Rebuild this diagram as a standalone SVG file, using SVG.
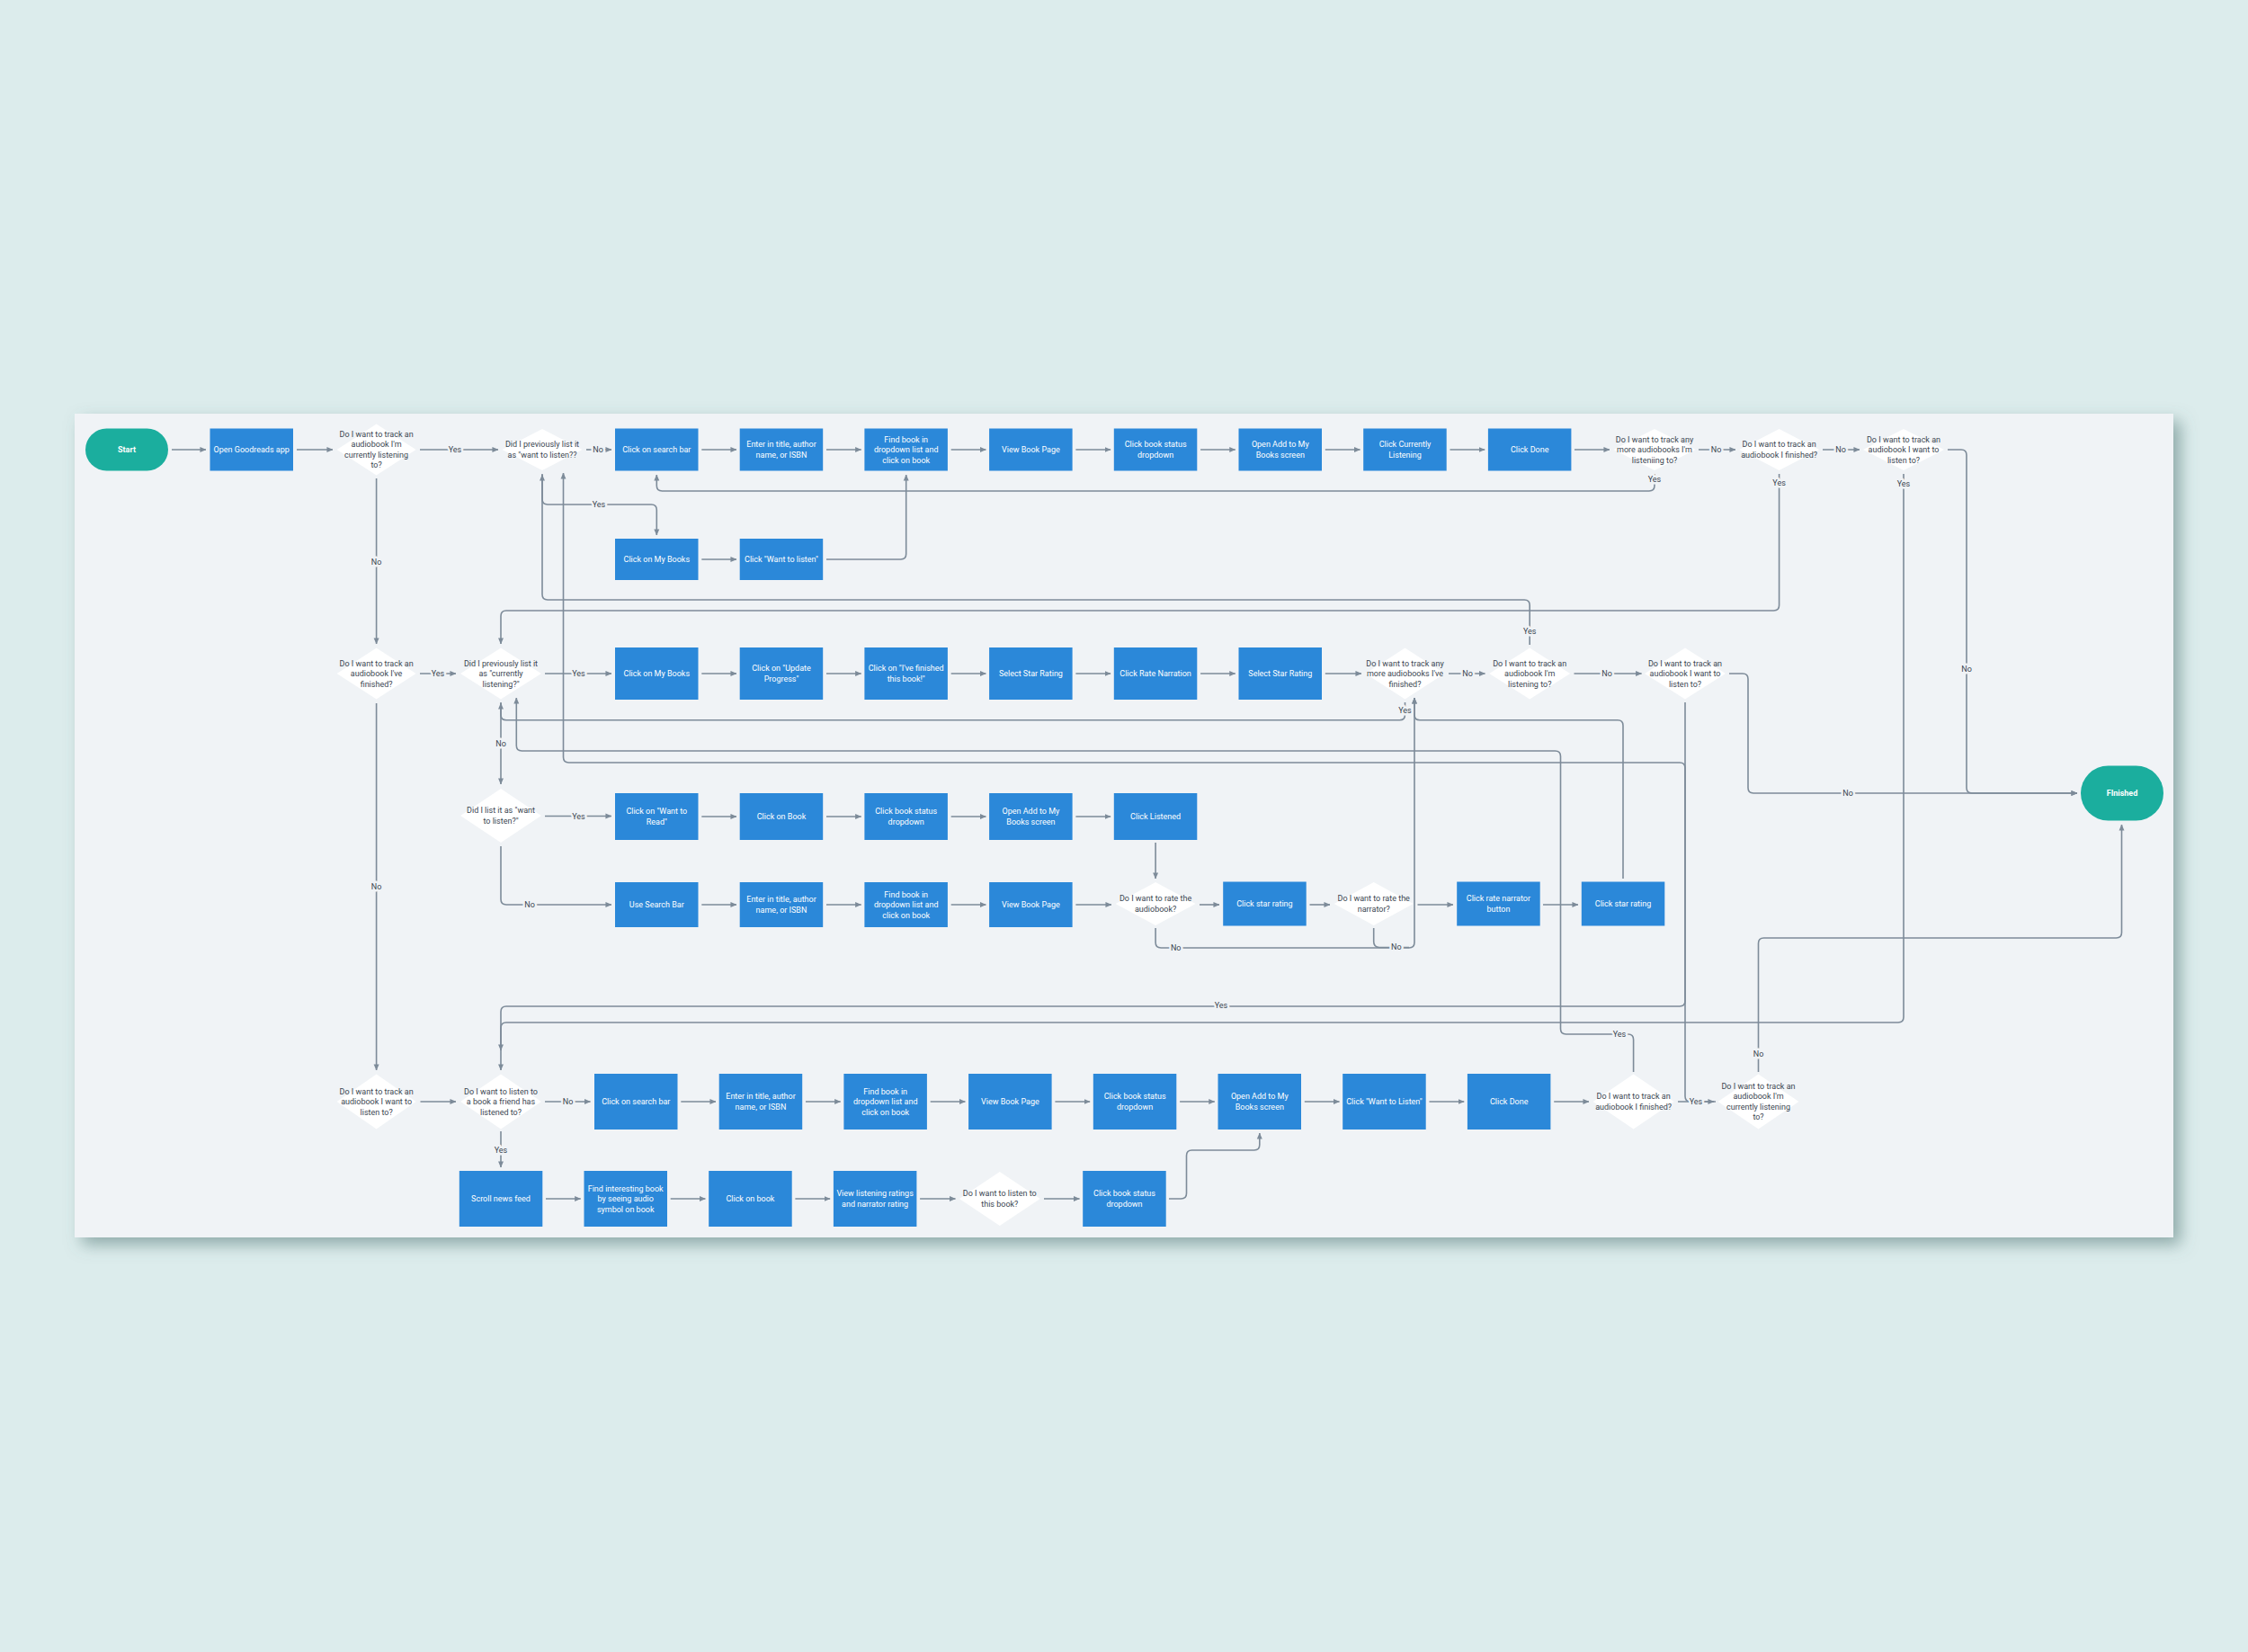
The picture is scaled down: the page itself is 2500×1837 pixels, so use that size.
<svg xmlns="http://www.w3.org/2000/svg" width="2500" height="1837" viewBox="0 0 2500 1837">
<defs>
<style>
.box{fill:#2b88d9}
.term{fill:#1bae9e}
.dia{fill:#ffffff}
.bt{font-family:"Liberation Sans Narrow","Roboto","DejaVu Sans",sans-serif;font-size:9px;fill:#ffffff;text-anchor:middle}
.dt{font-family:"Liberation Sans Narrow","Roboto","DejaVu Sans",sans-serif;font-size:9px;fill:#3b4651;text-anchor:middle}
.tt{font-family:"Liberation Sans Narrow","Roboto","DejaVu Sans",sans-serif;font-size:9px;font-weight:bold;fill:#ffffff;text-anchor:middle}
.c{fill:none;stroke:#7d8b99;stroke-width:1.6;marker-end:url(#arr)}
.cn{fill:none;stroke:#7d8b99;stroke-width:1.6}
.lbl{font-family:"Liberation Sans Narrow","Roboto","DejaVu Sans",sans-serif;font-size:9px;fill:#3b4651;text-anchor:middle;paint-order:stroke;stroke:#f0f3f6;stroke-width:5px;stroke-linejoin:round}
</style>
<marker id="arr" viewBox="0 0 8 8" refX="7.5" refY="4" markerWidth="7" markerHeight="7" markerUnits="userSpaceOnUse" orient="auto"><path d="M0,0.6 L8,4 L0,7.4 z" fill="#7d8b99"/></marker>
<filter id="psh" x="-5%" y="-5%" width="110%" height="112%"><feDropShadow dx="8" dy="8" stdDeviation="9" flood-color="#4f7472" flood-opacity="0.55"/></filter>
<filter id="nsh" x="-10%" y="-10%" width="120%" height="130%"><feDropShadow dx="0" dy="1" stdDeviation="1" flood-color="#3b4651" flood-opacity="0.2"/></filter>
</defs>
<rect x="0" y="0" width="2500" height="1837" fill="#dcecec"/>
<rect id="panel" x="83" y="460" width="2334" height="916" fill="#f0f3f6" filter="url(#psh)"/>

<g id="connectors">
<!-- row 1 -->
<path class="c" d="M191,500 L229,500"/>
<path class="c" d="M330,500 L370,500"/>
<path class="c" d="M467,500 L554,500"/>
<path class="c" d="M652,500 L680,500"/>
<path class="c" d="M780.3,500 L819,500"/>
<path class="c" d="M919,500 L957.7,500"/>
<path class="c" d="M1057.7,500 L1096.4,500"/>
<path class="c" d="M1196.4,500 L1235.1,500"/>
<path class="c" d="M1335.1,500 L1373.8,500"/>
<path class="c" d="M1473.8,500 L1512.5,500"/>
<path class="c" d="M1612.5,500 L1651.2,500"/>
<path class="c" d="M1751,500 L1790,500"/>
<path class="c" d="M1889,500 L1930,500"/>
<path class="c" d="M2027,500 L2068,500"/>
<path class="c" d="M2166,500 L2181,500 Q2187,500 2187,506 L2187,876 Q2187,882 2193,882 L2310,882"/>
<path class="c" d="M418.6,532 L418.6,716"/>
<path class="c" d="M1840,527 L1840,540 Q1840,546 1834,546 L736.3,546 Q730.3,546 730.3,540 L730.3,528"/>
<path class="c" d="M1978.6,527 L1978.6,673 Q1978.6,679 1972.6,679 L563,679 Q557,679 557,685 L557,716"/>
<path class="c" d="M2117,527 L2117,1131 Q2117,1137 2111,1137 L563,1137 Q557,1137 557,1143 L557,1190"/>
<path class="c" d="M603,527 L603,555 Q603,561 609,561 L724.3,561 Q730.3,561 730.3,567 L730.3,595"/>
<path class="c" d="M1701.2,717 L1701.2,673 Q1701.2,667 1695.2,667 L609,667 Q603,667 603,661 L603,528"/>
<path class="c" d="M1908,1225 L1880,1225 Q1874,1225 1874,1219 L1874,854 Q1874,848 1868,848 L632.5,848 Q626.5,848 626.5,842 L626.5,526"/>
<!-- row 1b -->
<path class="c" d="M780.3,622 L819,622"/>
<path class="c" d="M919,622 L1001.7,622 Q1007.7,622 1007.7,616 L1007.7,528"/>
<!-- row 2 -->
<path class="c" d="M467,749 L507,749"/>
<path class="c" d="M606,749 L680,749"/>
<path class="c" d="M780.3,749 L819,749"/>
<path class="c" d="M919,749 L957.7,749"/>
<path class="c" d="M1057.7,749 L1096.4,749"/>
<path class="c" d="M1196.4,749 L1235.1,749"/>
<path class="c" d="M1335.1,749 L1373.8,749"/>
<path class="c" d="M1473.8,749 L1514,749"/>
<path class="c" d="M1611,749 L1651.5,749"/>
<path class="c" d="M1750.5,749 L1825.6,749"/>
<path class="c" d="M1923,749 L1938,749 Q1944,749 1944,755 L1944,876 Q1944,882 1950,882 L2310,882"/>
<path class="c" d="M418.6,782 L418.6,1190"/>
<path class="c" d="M557,781 L557,872"/>
<path class="c" d="M1562.5,781 L1562.5,794.7 Q1562.5,800.7 1556.5,800.7 L563,800.7 Q557,800.7 557,794.7 L557,782"/>
<path class="c" d="M1805,977 L1805,806.7 Q1805,800.7 1799,800.7 L1579,800.7 Q1573,800.7 1573,794.7 L1573,776"/>
<path class="c" d="M1874,781 L1874,1113 Q1874,1119 1868,1119 L563,1119 Q557,1119 557,1125 L557,1168"/>
<path class="c" d="M1816.6,1192 L1816.6,1156 Q1816.6,1150 1810.6,1150 L1741.5,1150 Q1735.5,1150 1735.5,1144 L1735.5,841 Q1735.5,835 1729.5,835 L580.3,835 Q574.3,835 574.3,829 L574.3,776"/>
<!-- row 3 -->
<path class="c" d="M606,907.5 L680,907.5"/>
<path class="c" d="M557,941 L557,1000 Q557,1006 563,1006 L680,1006"/>
<path class="c" d="M780.3,908 L819,908"/>
<path class="c" d="M919,908 L957.7,908"/>
<path class="c" d="M1057.7,908 L1096.4,908"/>
<path class="c" d="M1196.4,908 L1235.1,908"/>
<path class="c" d="M1285.1,937 L1285.1,977"/>
<!-- row 3b -->
<path class="c" d="M780.3,1006 L819,1006"/>
<path class="c" d="M919,1006 L957.7,1006"/>
<path class="c" d="M1057.7,1006 L1096.4,1006"/>
<path class="c" d="M1196.4,1006 L1236,1006"/>
<path class="c" d="M1334,1006 L1356,1006"/>
<path class="c" d="M1456.5,1006 L1479,1006"/>
<path class="c" d="M1576.5,1006 L1616,1006"/>
<path class="c" d="M1716,1006 L1755,1006"/>
<path class="c" d="M1285.1,1032 L1285.1,1048 Q1285.1,1054 1291.1,1054 L1567,1054 Q1573,1054 1573,1048 L1573,776"/>
<path class="cn" d="M1527.7,1032 L1527.7,1047 Q1527.7,1053.5 1534,1053.5 L1567,1053.5"/>
<!-- row 4 -->
<path class="c" d="M467.5,1225 L507,1225"/>
<path class="c" d="M606,1225 L656.5,1225"/>
<path class="c" d="M757.3,1225 L796,1225"/>
<path class="c" d="M896,1225 L934.7,1225"/>
<path class="c" d="M1034.7,1225 L1073.4,1225"/>
<path class="c" d="M1173.4,1225 L1212.1,1225"/>
<path class="c" d="M1312.1,1225 L1350.8,1225"/>
<path class="c" d="M1450.8,1225 L1489.5,1225"/>
<path class="c" d="M1589.5,1225 L1628.2,1225"/>
<path class="c" d="M1728.2,1225 L1767,1225"/>
<path class="c" d="M1866,1225 L1906,1225"/>
<path class="c" d="M557,1258 L557,1298"/>
<path class="c" d="M1955.5,1192 L1955.5,1049 Q1955.5,1043 1961.5,1043 L2353.5,1043 Q2359.5,1043 2359.5,1037 L2359.5,917"/>
<!-- row 5 -->
<path class="c" d="M607,1333 L645.7,1333"/>
<path class="c" d="M745.7,1333 L784.4,1333"/>
<path class="c" d="M884.4,1333 L923.1,1333"/>
<path class="c" d="M1023.1,1333 L1062.5,1333"/>
<path class="c" d="M1161,1333 L1200.5,1333"/>
<path class="c" d="M1300,1333 L1313.5,1333 Q1319.5,1333 1319.5,1327 L1319.5,1285 Q1319.5,1279 1325.5,1279 L1394.8,1279 Q1400.8,1279 1400.8,1273 L1400.8,1260"/>

<!-- labels -->
<text class="lbl" x="506" y="503">Yes</text>
<text class="lbl" x="665" y="503">No</text>
<text class="lbl" x="418.6" y="628">No</text>
<text class="lbl" x="1840" y="536">Yes</text>
<text class="lbl" x="1908.6" y="503">No</text>
<text class="lbl" x="2047" y="503">No</text>
<text class="lbl" x="1978.6" y="540">Yes</text>
<text class="lbl" x="2117" y="541">Yes</text>
<text class="lbl" x="2187" y="747">No</text>
<text class="lbl" x="666" y="564">Yes</text>
<text class="lbl" x="1701.2" y="705">Yes</text>
<text class="lbl" x="487" y="752">Yes</text>
<text class="lbl" x="643.5" y="752">Yes</text>
<text class="lbl" x="1632" y="752">No</text>
<text class="lbl" x="1787" y="752">No</text>
<text class="lbl" x="2055" y="885">No</text>
<text class="lbl" x="557" y="830">No</text>
<text class="lbl" x="1562.5" y="793">Yes</text>
<text class="lbl" x="418.6" y="989">No</text>
<text class="lbl" x="643.5" y="910.5">Yes</text>
<text class="lbl" x="589" y="1009">No</text>
<text class="lbl" x="1307.7" y="1057">No</text>
<text class="lbl" x="1552.8" y="1056">No</text>
<text class="lbl" x="1358" y="1121">Yes</text>
<text class="lbl" x="1801" y="1153">Yes</text>
<text class="lbl" x="631.6" y="1228">No</text>
<text class="lbl" x="1886" y="1228">No</text>
<text class="lbl" x="1886" y="1228">Yes</text>
<text class="lbl" x="557" y="1282">Yes</text>
<text class="lbl" x="1955.5" y="1175">No</text>
</g>

<!-- terminals -->
<g id="n_start"><rect class="term" x="95" y="476.5" width="92" height="47" rx="23.5"/><text class="tt" x="141" y="503">Start</text></g>
<g id="n_finished"><rect class="term" x="2314" y="851.5" width="92" height="61" rx="30.5"/><text class="tt" x="2360" y="885">FInished</text></g>

<!-- row 1 -->
<g id="n_open_app"><rect class="box" x="233.5" y="476.5" width="92.5" height="47"/><text class="bt" x="279.7" y="503">Open Goodreads app</text></g>
<g id="d_track_current1"><polygon class="dia" points="418.6,471.5 462.6,500 418.6,528.5 374.6,500"/><text class="dt" x="418.6" y="485.75"><tspan x="418.6">Do I want to track an</tspan><tspan x="418.6" dy="11.5">audiobook I'm</tspan><tspan x="418.6" dy="11.5">currently listening</tspan><tspan x="418.6" dy="11.5">to?</tspan></text></g>
<g id="d_prev_want"><polygon class="dia" points="603,477 647.5,500 603,523 558.5,500"/><text class="dt" x="603" y="497.25"><tspan x="603">Did I previously list it</tspan><tspan x="603" dy="11.5">as "want to listen??</tspan></text></g>
<g id="n_search1"><rect class="box" x="684" y="476.5" width="92.5" height="47"/><text class="bt" x="730.3" y="503">Click on search bar</text></g>
<g id="n_enter1"><rect class="box" x="822.7" y="476.5" width="92.5" height="47"/><text class="bt" x="869" y="497.25"><tspan x="869">Enter in title, author</tspan><tspan x="869" dy="11.5">name, or ISBN</tspan></text></g>
<g id="n_find1"><rect class="box" x="961.4" y="476.5" width="92.5" height="47"/><text class="bt" x="1007.7" y="491.5"><tspan x="1007.7">Find book in</tspan><tspan x="1007.7" dy="11.5">dropdown list and</tspan><tspan x="1007.7" dy="11.5">click on book</tspan></text></g>
<g id="n_view1"><rect class="box" x="1100.1" y="476.5" width="92.5" height="47"/><text class="bt" x="1146.4" y="503">View Book Page</text></g>
<g id="n_status1"><rect class="box" x="1238.8" y="476.5" width="92.5" height="47"/><text class="bt" x="1285.1" y="497.25"><tspan x="1285.1">Click book status</tspan><tspan x="1285.1" dy="11.5">dropdown</tspan></text></g>
<g id="n_addscreen1"><rect class="box" x="1377.5" y="476.5" width="92.5" height="47"/><text class="bt" x="1423.8" y="497.25"><tspan x="1423.8">Open Add to My</tspan><tspan x="1423.8" dy="11.5">Books screen</tspan></text></g>
<g id="n_currently1"><rect class="box" x="1516.2" y="476.5" width="92.5" height="47"/><text class="bt" x="1562.5" y="497.25"><tspan x="1562.5">Click Currently</tspan><tspan x="1562.5" dy="11.5">Listening</tspan></text></g>
<g id="n_done1"><rect class="box" x="1654.9" y="476.5" width="92.5" height="47"/><text class="bt" x="1701.2" y="503">Click Done</text></g>
<g id="d_more_listening"><polygon class="dia" points="1840,477 1885.5,500 1840,523 1794.5,500"/><text class="dt" x="1840" y="491.5"><tspan x="1840">Do I want to track any</tspan><tspan x="1840" dy="11.5">more audiobooks I'm</tspan><tspan x="1840" dy="11.5">listeniing to?</tspan></text></g>
<g id="d_finished1"><polygon class="dia" points="1978.6,477 2023.1,500 1978.6,523 1934.1,500"/><text class="dt" x="1978.6" y="497.25"><tspan x="1978.6">Do I want to track an</tspan><tspan x="1978.6" dy="11.5">audiobook I finished?</tspan></text></g>
<g id="d_wantlisten1"><polygon class="dia" points="2117,477 2162,500 2117,523 2072,500"/><text class="dt" x="2117" y="491.5"><tspan x="2117">Do I want to track an</tspan><tspan x="2117" dy="11.5">audiobook I want to</tspan><tspan x="2117" dy="11.5">listen to?</tspan></text></g>

<!-- row 1b -->
<g id="n_mybooks1"><rect class="box" x="684" y="599" width="92.5" height="46"/><text class="bt" x="730.3" y="625">Click on My Books</text></g>
<g id="n_wantlisten1"><rect class="box" x="822.7" y="599" width="92.5" height="46"/><text class="bt" x="869" y="625">Click "Want to listen"</text></g>

<!-- row 2 -->
<g id="d_track_finished2"><polygon class="dia" points="418.6,720.5 462.6,749 418.6,777.5 374.6,749"/><text class="dt" x="418.6" y="740.5"><tspan x="418.6">Do I want to track an</tspan><tspan x="418.6" dy="11.5">audiobook I've</tspan><tspan x="418.6" dy="11.5">finished?</tspan></text></g>
<g id="d_prev_current"><polygon class="dia" points="557,720.5 602,749 557,777.5 512,749"/><text class="dt" x="557" y="740.5"><tspan x="557">Did I previously list it</tspan><tspan x="557" dy="11.5">as "currently</tspan><tspan x="557" dy="11.5">listening?"</tspan></text></g>
<g id="n_mybooks2"><rect class="box" x="684" y="720" width="92.5" height="58"/><text class="bt" x="730.3" y="752">Click on My Books</text></g>
<g id="n_update"><rect class="box" x="822.7" y="720" width="92.5" height="58"/><text class="bt" x="869" y="746.25"><tspan x="869">Click on "Update</tspan><tspan x="869" dy="11.5">Progress"</tspan></text></g>
<g id="n_ivefinished"><rect class="box" x="961.4" y="720" width="92.5" height="58"/><text class="bt" x="1007.7" y="746.25"><tspan x="1007.7">Click on "I've finished</tspan><tspan x="1007.7" dy="11.5">this book!"</tspan></text></g>
<g id="n_star2a"><rect class="box" x="1100.1" y="720" width="92.5" height="58"/><text class="bt" x="1146.4" y="752">Select Star Rating</text></g>
<g id="n_ratenarration"><rect class="box" x="1238.8" y="720" width="92.5" height="58"/><text class="bt" x="1285.1" y="752">Click Rate Narration</text></g>
<g id="n_star2b"><rect class="box" x="1377.5" y="720" width="92.5" height="58"/><text class="bt" x="1423.8" y="752">Select Star Rating</text></g>
<g id="d_more_finished"><polygon class="dia" points="1562.5,720.5 1606.5,749 1562.5,777.5 1518.5,749"/><text class="dt" x="1562.5" y="740.5"><tspan x="1562.5">Do I want to track any</tspan><tspan x="1562.5" dy="11.5">more audiobooks I've</tspan><tspan x="1562.5" dy="11.5">finished?</tspan></text></g>
<g id="d_listening2"><polygon class="dia" points="1701.2,720.5 1746.2,749 1701.2,777.5 1656.2,749"/><text class="dt" x="1701.2" y="740.5"><tspan x="1701.2">Do I want to track an</tspan><tspan x="1701.2" dy="11.5">audiobook I'm</tspan><tspan x="1701.2" dy="11.5">listening to?</tspan></text></g>
<g id="d_wantlisten2"><polygon class="dia" points="1874,720.5 1919,749 1874,777.5 1829,749"/><text class="dt" x="1874" y="740.5"><tspan x="1874">Do I want to track an</tspan><tspan x="1874" dy="11.5">audiobook I want to</tspan><tspan x="1874" dy="11.5">listen to?</tspan></text></g>

<!-- row 3 -->
<g id="d_listed_want"><polygon class="dia" points="557,877 602,907 557,937 512,907"/><text class="dt" x="557" y="904.25"><tspan x="557">Did I list it as "want</tspan><tspan x="557" dy="11.5">to listen?"</tspan></text></g>
<g id="n_wantread"><rect class="box" x="684" y="882" width="92.5" height="52"/><text class="bt" x="730.3" y="905.25"><tspan x="730.3">Click on "Want to</tspan><tspan x="730.3" dy="11.5">Read"</tspan></text></g>
<g id="n_clickbook3"><rect class="box" x="822.7" y="882" width="92.5" height="52"/><text class="bt" x="869" y="911">Click on Book</text></g>
<g id="n_status3"><rect class="box" x="961.4" y="882" width="92.5" height="52"/><text class="bt" x="1007.7" y="905.25"><tspan x="1007.7">Click book status</tspan><tspan x="1007.7" dy="11.5">dropdown</tspan></text></g>
<g id="n_addscreen3"><rect class="box" x="1100.1" y="882" width="92.5" height="52"/><text class="bt" x="1146.4" y="905.25"><tspan x="1146.4">Open Add to My</tspan><tspan x="1146.4" dy="11.5">Books screen</tspan></text></g>
<g id="n_listened"><rect class="box" x="1238.8" y="882" width="92.5" height="52"/><text class="bt" x="1285.1" y="911">Click Listened</text></g>

<!-- row 3b -->
<g id="n_usesearch"><rect class="box" x="684" y="981" width="92.5" height="50"/><text class="bt" x="730.3" y="1009">Use Search Bar</text></g>
<g id="n_enter3"><rect class="box" x="822.7" y="981" width="92.5" height="50"/><text class="bt" x="869" y="1003.25"><tspan x="869">Enter in title, author</tspan><tspan x="869" dy="11.5">name, or ISBN</tspan></text></g>
<g id="n_find3"><rect class="box" x="961.4" y="981" width="92.5" height="50"/><text class="bt" x="1007.7" y="997.5"><tspan x="1007.7">Find book in</tspan><tspan x="1007.7" dy="11.5">dropdown list and</tspan><tspan x="1007.7" dy="11.5">click on book</tspan></text></g>
<g id="n_view3"><rect class="box" x="1100.1" y="981" width="92.5" height="50"/><text class="bt" x="1146.4" y="1009">View Book Page</text></g>
<g id="d_rate_book"><polygon class="dia" points="1285.1,981 1329.6,1005 1285.1,1029 1240.6,1005"/><text class="dt" x="1285.1" y="1002.25"><tspan x="1285.1">Do I want to rate the</tspan><tspan x="1285.1" dy="11.5">audiobook?</tspan></text></g>
<g id="n_star3a"><rect class="box" x="1360.2" y="980.5" width="92.5" height="49"/><text class="bt" x="1406.4" y="1008">Click star rating</text></g>
<g id="d_rate_narrator"><polygon class="dia" points="1527.7,981 1571.7,1005 1527.7,1029 1483.7,1005"/><text class="dt" x="1527.7" y="1002.25"><tspan x="1527.7">Do I want to rate the</tspan><tspan x="1527.7" dy="11.5">narrator?</tspan></text></g>
<g id="n_narrbutton"><rect class="box" x="1620.2" y="980.5" width="92.5" height="49"/><text class="bt" x="1666.4" y="1002.25"><tspan x="1666.4">Click rate narrator</tspan><tspan x="1666.4" dy="11.5">button</tspan></text></g>
<g id="n_star3b"><rect class="box" x="1758.8" y="980.5" width="92.5" height="49"/><text class="bt" x="1805" y="1008">Click star rating</text></g>

<!-- row 4 -->
<g id="d_track_want4"><polygon class="dia" points="418.6,1194.5 462.6,1225 418.6,1255.5 374.6,1225"/><text class="dt" x="418.6" y="1216.5"><tspan x="418.6">Do I want to track an</tspan><tspan x="418.6" dy="11.5">audiobook I want to</tspan><tspan x="418.6" dy="11.5">listen to?</tspan></text></g>
<g id="d_friend"><polygon class="dia" points="557,1194.5 602,1225 557,1255.5 512,1225"/><text class="dt" x="557" y="1216.5"><tspan x="557">Do I want to listen to</tspan><tspan x="557" dy="11.5">a book a friend has</tspan><tspan x="557" dy="11.5">listened to?</tspan></text></g>
<g id="n_search4"><rect class="box" x="661" y="1194" width="92.5" height="62"/><text class="bt" x="707.3" y="1228">Click on search bar</text></g>
<g id="n_enter4"><rect class="box" x="799.7" y="1194" width="92.5" height="62"/><text class="bt" x="846" y="1222.25"><tspan x="846">Enter in title, author</tspan><tspan x="846" dy="11.5">name, or ISBN</tspan></text></g>
<g id="n_find4"><rect class="box" x="938.4" y="1194" width="92.5" height="62"/><text class="bt" x="984.7" y="1216.5"><tspan x="984.7">Find book in</tspan><tspan x="984.7" dy="11.5">dropdown list and</tspan><tspan x="984.7" dy="11.5">click on book</tspan></text></g>
<g id="n_view4"><rect class="box" x="1077.1" y="1194" width="92.5" height="62"/><text class="bt" x="1123.4" y="1228">View Book Page</text></g>
<g id="n_status4"><rect class="box" x="1215.8" y="1194" width="92.5" height="62"/><text class="bt" x="1262.1" y="1222.25"><tspan x="1262.1">Click book status</tspan><tspan x="1262.1" dy="11.5">dropdown</tspan></text></g>
<g id="n_addscreen4"><rect class="box" x="1354.5" y="1194" width="92.5" height="62"/><text class="bt" x="1400.8" y="1222.25"><tspan x="1400.8">Open Add to My</tspan><tspan x="1400.8" dy="11.5">Books screen</tspan></text></g>
<g id="n_wantlisten4"><rect class="box" x="1493.2" y="1194" width="92.5" height="62"/><text class="bt" x="1539.5" y="1228">Click "Want to Listen"</text></g>
<g id="n_done4"><rect class="box" x="1631.9" y="1194" width="92.5" height="62"/><text class="bt" x="1678.2" y="1228">Click Done</text></g>
<g id="d_finished4"><polygon class="dia" points="1816.6,1194.5 1861.6,1225 1816.6,1255.5 1771.6,1225"/><text class="dt" x="1816.6" y="1222.25"><tspan x="1816.6">Do I want to track an</tspan><tspan x="1816.6" dy="11.5">audiobook I finished?</tspan></text></g>
<g id="d_current4"><polygon class="dia" points="1955.5,1194.5 2000.5,1225 1955.5,1255.5 1910.5,1225"/><text class="dt" x="1955.5" y="1210.75"><tspan x="1955.5">Do I want to track an</tspan><tspan x="1955.5" dy="11.5">audiobook I'm</tspan><tspan x="1955.5" dy="11.5">currently listening</tspan><tspan x="1955.5" dy="11.5">to?</tspan></text></g>

<!-- row 5 -->
<g id="n_scroll"><rect class="box" x="510.8" y="1302" width="92.5" height="62"/><text class="bt" x="557" y="1336">Scroll news feed</text></g>
<g id="n_findinteresting"><rect class="box" x="649.5" y="1302" width="92.5" height="62"/><text class="bt" x="695.7" y="1324.5"><tspan x="695.7">Find interesting book</tspan><tspan x="695.7" dy="11.5">by seeing audio</tspan><tspan x="695.7" dy="11.5">symbol on book</tspan></text></g>
<g id="n_clickbook5"><rect class="box" x="788.2" y="1302" width="92.5" height="62"/><text class="bt" x="834.4" y="1336">Click on book</text></g>
<g id="n_viewratings"><rect class="box" x="926.9" y="1302" width="92.5" height="62"/><text class="bt" x="973.1" y="1330.25"><tspan x="973.1">View listening ratings</tspan><tspan x="973.1" dy="11.5">and narrator rating</tspan></text></g>
<g id="d_listen_this"><polygon class="dia" points="1111.8,1303 1156.8,1333 1111.8,1363 1066.8,1333"/><text class="dt" x="1111.8" y="1330.25"><tspan x="1111.8">Do I want to listen to</tspan><tspan x="1111.8" dy="11.5">this book?</tspan></text></g>
<g id="n_status5"><rect class="box" x="1204.2" y="1302" width="92.5" height="62"/><text class="bt" x="1250.5" y="1330.25"><tspan x="1250.5">Click book status</tspan><tspan x="1250.5" dy="11.5">dropdown</tspan></text></g>
</svg>
